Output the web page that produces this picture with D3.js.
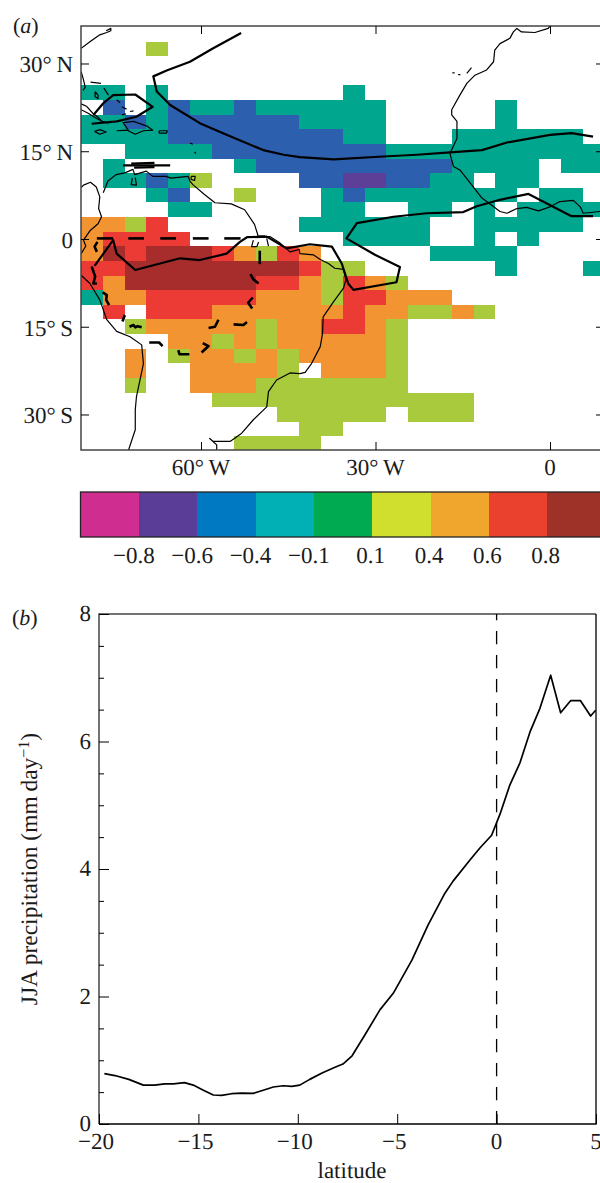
<!DOCTYPE html>
<html>
<head>
<meta charset="utf-8">
<script src="https://cdn.jsdelivr.net/npm/d3@7"></script>
<style>
  html, body { margin: 0; padding: 0; background: #fff; overflow: hidden; }
  text { font-family: "Liberation Serif", serif; fill: #1a1a1a; text-rendering: geometricPrecision; }
</style>
</head>
<body>
<script>
// Panel (a): correlation classes on the model grid, one string per latitude row
// . = no colour, t/b/p = negative classes, l/o/r/d = positive classes
const gridLats = d3.range(32.5, -37.5, -2.5);
const gridLons = d3.range(0, 24).map(j => -78.75 + 3.75 * j);
const corrRows = [
  "...l....................",
  "........................",
  "........................",
  "tt.t........t...........",
  ".b.tbttbtttttt.....t....",
  "ttbtbbbbbbtttt.....t....",
  "ttttbbbbbbbbtt...tttttt.",
  "..ttttbbbbbbbbtttttttttt",
  ".t.....tbbbbbbbbbtttt.tt",
  ".ttbtl....bbppbbtt.tt...",
  "...tb..l...tbttttttt.tt.",
  "....tt.....tt..tt.t.tttt",
  "oolr......tttttt..ttttt.",
  "orrrr.......tttt..t.t...",
  "odrdddrolro.....tttt....",
  "rrddddddddrll......t...t",
  "roddddddrrolrol.........",
  "toorrrrrooolrrooo.......",
  ".r.rrroooooorooll" + "ol.....",
  "..loooooloorrol.........",
  "....oololoooool.........",
  "..o.loololooool.........",
  "..o..ooool.oool.........",
  "..l..ooolllllll.........",
  "......llllllllllll......",
  ".........lllll.lll......",
  "..........ll............",
  ".......llll............."
];
const classValues = { t: -0.25, b: -0.5, p: -0.7, l: 0.25, o: 0.5, r: 0.7, d: 0.9 };

// Colour classes
const classBreaks = [-0.8, -0.6, -0.4, -0.1, 0.1, 0.4, 0.6, 0.8];
const mapColors = ["#cf2d8f", "#5d3f98", "#2c5fae", "#00a78e", "#ffffff", "#a9ca3c", "#f29432", "#ec3a34", "#a62d2b"];
const barColors = ["#cf2d8f", "#5a3d96", "#0079c2", "#00b0b5", "#00aa50", "#d0df2e", "#f0a52d", "#ea402e", "#9e3228"];
const barLabels = ["\u22120.8", "\u22120.6", "\u22120.4", "\u22120.1", "0.1", "0.4", "0.6", "0.8"];

// Coastlines, [lon, lat]
const coasts = [
  [[-80.6,32.6],[-79.1,33.7],[-77.4,34.9],[-76.2,35.3],[-75.5,35.6],[-75.5,36.0],[-76.3,35.6]],
  [[-80.6,28.6],[-80.2,27.2],[-79.9,25.9],[-80.3,25.4]],
  [[-80.6,23.1],[-79.7,22.7],[-78.6,21.5],[-77.7,20.8],[-77.0,20.1],[-75.9,19.8]],
  [[-80.6,22.1],[-79.4,21.5],[-78.3,20.8],[-77.0,20.1]],
  [[-78.3,18.4],[-77.4,18.7],[-76.3,18.3],[-77.4,17.9],[-78.3,18.4]],
  [[-74.5,18.5],[-72.5,18.6],[-73.4,19.9],[-71.6,20.1],[-69.3,19.3],[-68.3,18.6],[-69.9,18.5],[-71.3,17.9],[-72.5,18.5]],
  [[-67.2,18.5],[-65.8,18.5],[-65.9,18.1],[-67.2,18.1],[-67.2,18.5]],
  [[-78.2,25.2],[-77.7,24.6],[-77.7,24.0],[-78.2,24.3],[-78.2,25.2]],
  [[-79.0,26.8],[-77.2,26.6]],
  [[-76.7,25.8],[-75.9,24.6]],
  [[-74.5,23.8],[-73.9,23.3]],
  [[-73.6,22.6],[-72.8,22.2]],
  [[-72.2,21.8],[-71.6,21.9]],
  [[-73.6,21.2],[-72.9,21.4]],
  [[-61.9,16.4],[-61.4,16.2]],
  [[-61.1,14.9],[-60.9,14.6]],
  [[-80.6,8.8],[-80.2,9.2],[-79.0,9.7],[-78.0,8.9],[-77.4,7.2],[-77.6,5.2],[-77.1,3.8],[-77.7,2.6],[-79.1,1.4],[-80.2,-0.2],[-79.8,-1.2],[-80.6,-2.5]],
  [[-80.6,-6.2],[-79.1,-7.6],[-77.4,-10.4],[-76.2,-13.8],[-74.5,-15.8],[-72.2,-16.7],[-70.2,-18.1],[-69.9,-21.3],[-71.1,-27.0],[-71.3,-29.2],[-71.3,-32.6],[-72.5,-36.2]],
  [[-76.8,7.9],[-76.0,9.9],[-74.6,11.0],[-73.1,11.3],[-71.7,11.9],[-71.4,11.0],[-69.4,11.6],[-68.3,10.7],[-66.0,10.7],[-65.2,10.4],[-62.2,10.7],[-61.9,9.9],[-61.4,9.3],[-59.4,7.6],[-57.6,6.2],[-54.8,6.0],[-52.5,5.0],[-50.8,2.5],[-50.2,0.6]],
  [[-71.8,10.4],[-72.0,9.3],[-71.1,9.2],[-71.3,10.5]],
  [[-61.7,10.7],[-61.0,10.7],[-61.1,10.0],[-61.7,10.2],[-61.7,10.7]],
  [[-51,-0.2],[-51.3,-1.3],[-50.4,-1.3],[-50.1,-0.5]],
  [[-48.7,0.1],[-48.4,-1.2]],
  [[-52.1,0.4],[-48.1,0.4],[-46.4,-0.7],[-44.7,-2.2],[-43.1,-1.8],[-43.0,-2.5],[-40.7,-2.7],[-39.5,-3.5],[-38.1,-4.2],[-37,-5],[-35.5,-5.2],[-35.1,-7],[-35.5,-8.4],[-37.2,-10.7],[-39,-13.3],[-39.1,-16.1],[-39.5,-18.4],[-41,-21.3],[-42.1,-22.8],[-43,-23],[-44.7,-22.9],[-47,-24.1],[-48.4,-26.1],[-48.7,-28.7],[-51,-30.9],[-53,-33.2],[-55,-34.6],[-57.9,-34.6],[-58.5,-34.1],[-57.3,-35.2],[-57.3,-36.2]],
  [[0,36.4],[-0.3,36.0],[-2.6,35.3],[-4.9,35.4],[-5.7,36.0],[-6.3,35.4],[-6.9,34.3],[-8.6,33.4],[-9.5,32.3],[-9.7,30.3],[-10.9,28.9],[-12.9,28.0],[-14.3,26.6],[-15.5,24.6],[-16.9,22.1],[-16.9,21.2],[-16.0,20.1],[-16.0,17.2],[-17.2,14.6],[-16.6,12.4],[-15.5,11.8],[-13.2,8.9],[-11.7,7.0],[-8.6,4.7],[-7.4,4.4],[-5.7,5.2],[-4.0,5.4],[-2.0,4.8],[0,5.5],[1.7,6.4],[4.0,6.6],[5.2,5.5],[5.7,4.4],[8.6,4.7]],
  [[-16.8,28.4],[-16.4,28.4]],
  [[-15.8,28.1],[-15.4,28.1]],
  [[-14.3,28.3],[-13.5,29.3]]
];

// Heavy contours, [lon, lat]
const contours = [
  [[-53.1,35.2],[-57.9,32.6],[-61.9,30.3],[-65.9,28.8],[-68.2,27.8],[-67.6,25.2],[-65.3,22.9],[-60.2,19.8],[-55.6,17.8],[-49.3,15.2],[-45.8,14.4],[-43,14.0],[-37.2,13.6],[-28.7,14.1],[-22.9,14.4],[-17.2,14.8],[-11.7,15.2],[-7.4,16.5],[0,17.8],[3.7,18.1],[7.4,17.5]],
  [[7.4,3.9],[3.7,3.9],[-3.7,7.7],[-8.6,6.7],[-12.6,5.6],[-14.9,4.6],[-21.2,4.4],[-26.9,3.8],[-33.2,2.7],[-35,0.1],[-30.1,-2.7],[-25.8,-4.8],[-26.4,-7.4],[-33.8,-8.7],[-34.7,-7.6],[-35.8,-4.2],[-37.5,-1.3],[-41.3,-0.9],[-43,-1.2],[-45.3,-1.6],[-48.7,0.4],[-52.1,0.3],[-53.3,-0.5],[-55.6,-2.5],[-60.2,-3.6],[-63.6,-3.3],[-71.3,-5.3],[-74.5,-2.5],[-75.1,-0.2],[-78.3,-4.6]],
  [[-78.8,19.7],[-74.5,20.1],[-71.1,20.9],[-68.3,22.6],[-71.3,24.7],[-75.1,24.6],[-76.8,23.2],[-78.5,21.2]],
  [[-73.4,12.6],[-65.3,12.6]],
  [[-72,12.9],[-68,13]],
  [[-71.5,12.2],[-68,12.3]]
];

// Basin outline, drawn as broken heavy pieces, [lon, lat]
const basinDashes = [
  [[-77.9,0.1],[-75.1,0.1]],
  [[-72.5,0.1],[-69.8,0.1]],
  [[-67.0,0.1],[-64.3,0.1]],
  [[-61.4,0.1],[-58.7,0.1]],
  [[-56.0,0.1],[-53.2,0.1]],
  [[-50.4,0.4],[-49,0.4]],
  [[-49.9,-2.0],[-49.9,-4.3]],
  [[-51.5,-6.0],[-51,-6.9],[-50.1,-7.6]],
  [[-51.1,-10],[-51.9,-10.9],[-51.2,-11.9]],
  [[-52.1,-14.2],[-52.7,-14.7],[-54.4,-14.6]],
  [[-57,-13.8],[-57.6,-15],[-58.7,-15.2]],
  [[-59.7,-17.8],[-58.7,-18.3],[-59.9,-19.4]],
  [[-62,-19.7],[-63.7,-19.7],[-63.9,-19]],
  [[-66.6,-18.3],[-67.2,-17.7],[-68.9,-17.7]],
  [[-70.2,-15.1],[-70.9,-14.9],[-71.3,-15.1],[-71.6,-14.7],[-72.3,-15]],
  [[-73.1,-13],[-73.5,-14.1]],
  [[-75.8,-11.3],[-76.3,-10.4],[-76.2,-9.6],[-76.9,-9.1]],
  [[-77.9,-7.6],[-78.5,-7.6],[-78.2,-6.4],[-78.8,-4.7]],
  [[-77.9,-2.2],[-78.3,-1.3],[-77.8,-0.5]]
];

const lonTicks = [-60, -30, 0];
const lonTickLabels = ["60\u00b0\u2009W", "30\u00b0\u2009W", "0"];
const latTicks = [30, 15, 0, -15, -30];
const latTickLabels = ["30\u00b0\u2009N", "15\u00b0\u2009N", "0", "15\u00b0\u2009S", "30\u00b0\u2009S"];

// Panel (b): JJA precipitation against latitude
const precipLat = [-19.73,-19.2,-18.5,-17.77,-17.2,-16.7,-16.26,-15.7,-15.26,-14.75,-14.25,-13.83,-13.33,-12.82,-12.24,-11.74,-11.23,-10.73,-10.3,-9.9,-9.4,-8.78,-8.13,-7.73,-7.27,-6.62,-5.87,-5.2,-4.26,-3.45,-2.6,-2.19,-1.34,-0.84,-0.25,0.17,0.67,1.18,1.68,2.18,2.72,3.22,3.72,4.22,4.73,4.98];
const precipValue = [0.79,0.76,0.70,0.61,0.61,0.63,0.63,0.65,0.61,0.53,0.455,0.45,0.475,0.485,0.48,0.53,0.58,0.60,0.59,0.61,0.70,0.80,0.89,0.94,1.07,1.40,1.79,2.05,2.57,3.12,3.62,3.81,4.14,4.33,4.53,4.86,5.32,5.67,6.15,6.52,7.04,6.45,6.64,6.64,6.40,6.49];
const xTicksB = [-20, -15, -10, -5, 0, 5];
const yTicksB = [0, 2, 4, 6, 8];
const yMinorB = [0.5, 1, 1.5, 2.5, 3, 3.5, 4.5, 5, 5.5, 6.5, 7, 7.5];

const width = 600, height = 1183;
const frameColor = "#444";
const labelSize = 23;

const svg = d3.select("body").append("svg")
    .attr("width", width)
    .attr("height", height);

// ---- Panel (a) map ----
const map = { left: 81, right: 604, top: 26, bottom: 450 };
const xLon = d3.scaleLinear().domain([-80.63, 9.28]).range([map.left, map.right]);
const yLat = d3.scaleLinear().domain([36.41, -36.07]).range([map.top, map.bottom]);
const classColor = d3.scaleThreshold().domain(classBreaks).range(mapColors);

svg.append("defs").append("clipPath").attr("id", "map-clip").append("rect")
    .attr("x", map.left).attr("y", map.top)
    .attr("width", map.right - map.left).attr("height", map.bottom - map.top);

const mapLayer = svg.append("g").attr("clip-path", "url(#map-clip)");

// Grid cells
const cells = [];
corrRows.forEach((row, i) => {
    row.split("").forEach((c, j) => {
        if (c !== ".") cells.push({ lat: gridLats[i], lon: gridLons[j], value: classValues[c] });
    });
});

mapLayer.selectAll("rect.cell").data(cells).join("rect")
    .attr("class", "cell")
    .attr("x", d => xLon(d.lon - 1.875))
    .attr("y", d => yLat(d.lat + 1.25))
    .attr("width", xLon(3.75) - xLon(0))
    .attr("height", yLat(0) - yLat(2.5))
    .attr("fill", d => classColor(d.value))
    .attr("shape-rendering", "crispEdges");

const geoLine = d3.line().x(d => xLon(d[0])).y(d => yLat(d[1]));

function drawLines(data, strokeWidth) {
    mapLayer.append("g").selectAll("path").data(data).join("path")
        .attr("d", geoLine)
        .attr("fill", "none")
        .attr("stroke", "#000")
        .attr("stroke-width", strokeWidth)
        .attr("stroke-linejoin", "round");
}
drawLines(coasts, 1.2);
drawLines(contours, 2.2);
drawLines(basinDashes, 2.6);

// Map frame
svg.append("path")
    .attr("d", `M${map.right},${map.top}H${map.left}V${map.bottom}H${map.right}`)
    .attr("fill", "none")
    .attr("stroke", frameColor)
    .attr("stroke-width", 1.5);

// Map ticks, all pointing inwards
svg.append("g").attr("transform", `translate(0,${map.bottom})`)
    .call(d3.axisBottom(xLon).tickValues(lonTicks).tickSize(-8).tickFormat(""))
    .call(g => g.select(".domain").remove());
svg.append("g").attr("transform", `translate(0,${map.top})`)
    .call(d3.axisTop(xLon).tickValues(lonTicks).tickSize(-8).tickFormat(""))
    .call(g => g.select(".domain").remove());
svg.append("g").attr("transform", `translate(${map.left},0)`)
    .call(d3.axisLeft(yLat).tickValues(latTicks).tickSize(-8).tickFormat(""))
    .call(g => g.select(".domain").remove());
svg.append("g").attr("transform", `translate(${map.right},0)`)
    .call(d3.axisRight(yLat).tickValues(latTicks).tickSize(-8).tickFormat(""))
    .call(g => g.select(".domain").remove());

// Map labels
svg.append("g").selectAll("text").data(lonTicks).join("text")
    .attr("x", d => xLon(d))
    .attr("y", 475)
    .attr("text-anchor", "middle")
    .style("font-size", labelSize + "px")
    .text((d, i) => lonTickLabels[i]);

svg.append("g").selectAll("text").data(latTicks).join("text")
    .attr("x", 73)
    .attr("y", d => yLat(d) + 9)
    .attr("text-anchor", "end")
    .style("font-size", labelSize + "px")
    .text((d, i) => latTickLabels[i]);

svg.append("text").attr("x", 13).attr("y", 33)
    .style("font-size", "22px")
    .html('(<tspan font-style="italic">a</tspan>)');

// ---- Colour bar ----
const xBar = d3.scaleLinear().domain([0, 9]).range([80.5, 605.5]);

svg.append("g").selectAll("rect").data(barColors).join("rect")
    .attr("x", (d, i) => xBar(i))
    .attr("y", 492)
    .attr("width", xBar(1) - xBar(0))
    .attr("height", 45)
    .attr("fill", d => d)
    .attr("shape-rendering", "crispEdges");

svg.append("rect")
    .attr("x", xBar(0)).attr("y", 492)
    .attr("width", xBar(9) - xBar(0)).attr("height", 45)
    .attr("fill", "none")
    .attr("stroke", "#222")
    .attr("stroke-width", 1.3);

svg.append("g").selectAll("text").data(barLabels).join("text")
    .attr("x", (d, i) => xBar(i + 1) - (classBreaks[i] < 0 ? 5 : 1.5))
    .attr("y", 563)
    .attr("text-anchor", "middle")
    .style("font-size", labelSize + "px")
    .text(d => d);

// ---- Panel (b) line chart ----
const plot = { left: 99, right: 596, top: 614, bottom: 1124 };
const xScale = d3.scaleLinear().domain([-20, 5]).range([plot.left, plot.right]);
const yScale = d3.scaleLinear().domain([0, 8]).range([plot.bottom, plot.top]);

svg.append("path")
    .attr("d", `M${plot.left},${plot.bottom}V${plot.top}H${plot.right}`)
    .attr("fill", "none")
    .attr("stroke", frameColor)
    .attr("stroke-width", 1.5);

svg.append("path")
    .attr("d", `M${plot.left},${plot.bottom}H${plot.right}V${plot.top}`)
    .attr("fill", "none")
    .attr("stroke", "#000")
    .attr("stroke-width", 1.3);

svg.append("g").attr("transform", `translate(0,${plot.bottom})`)
    .call(d3.axisBottom(xScale).tickValues(xTicksB).tickSize(-10).tickFormat(""))
    .call(g => g.select(".domain").remove());
svg.append("g").attr("transform", `translate(${plot.left},0)`)
    .call(d3.axisLeft(yScale).tickValues(yTicksB).tickSize(-10).tickFormat(""))
    .call(g => g.select(".domain").remove());
svg.append("g").attr("transform", `translate(${plot.left},0)`)
    .call(d3.axisLeft(yScale).tickValues(yMinorB).tickSize(-5).tickFormat(""))
    .call(g => g.select(".domain").remove());

// Equator marker
svg.append("line")
    .attr("x1", xScale(0)).attr("x2", xScale(0))
    .attr("y1", plot.top).attr("y2", plot.bottom)
    .attr("stroke", "#000")
    .attr("stroke-width", 1.3)
    .attr("stroke-dasharray", "13.3 10.7")
    .attr("stroke-dashoffset", 7);

// Precipitation curve
svg.append("path")
    .datum(d3.zip(precipLat, precipValue))
    .attr("d", d3.line().x(d => xScale(d[0])).y(d => yScale(d[1])))
    .attr("fill", "none")
    .attr("stroke", "#000")
    .attr("stroke-width", 1.7)
    .attr("stroke-linejoin", "round");

svg.append("g").selectAll("text").data(xTicksB).join("text")
    .attr("x", d => xScale(d) - (d < 0 ? 3 : 0))
    .attr("y", 1149)
    .attr("text-anchor", "middle")
    .style("font-size", labelSize + "px")
    .text(d => d < 0 ? "\u2212" + (-d) : d);

svg.append("g").selectAll("text").data(yTicksB).join("text")
    .attr("x", 91)
    .attr("y", d => yScale(d) + 7)
    .attr("text-anchor", "end")
    .style("font-size", labelSize + "px")
    .text(d => d);

svg.append("text")
    .attr("x", 352).attr("y", 1178)
    .attr("text-anchor", "middle")
    .style("font-size", "23px")
    .text("latitude");

// Y-axis label
svg.append("text")
    .attr("transform", "translate(37,869) rotate(-90)")
    .attr("text-anchor", "middle")
    .style("font-size", "23.5px")
    .html('JJA precipitation (mm\u2009day<tspan dy="-8" font-size="16">\u22121</tspan><tspan dy="8">)</tspan>');

svg.append("text").attr("x", 12).attr("y", 625)
    .style("font-size", "22px")
    .html('(<tspan font-style="italic">b</tspan>)');
</script>
</body>
</html>
